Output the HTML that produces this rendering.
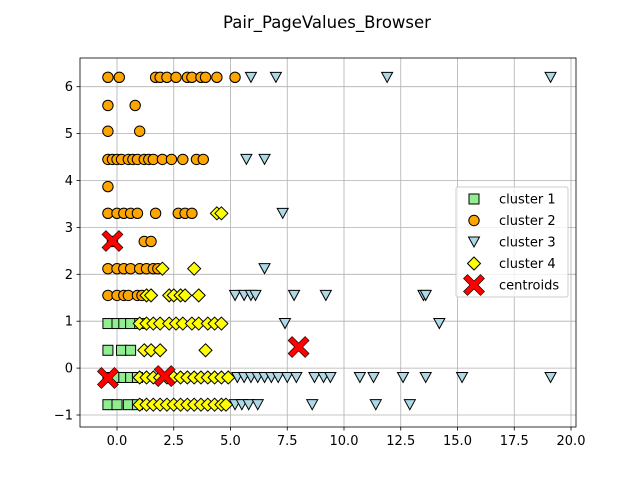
<!DOCTYPE html>
<html><head><meta charset="utf-8"><style>
body{margin:0;background:#fff;}
svg{display:block;font-family:"DejaVu Sans","Liberation Sans",sans-serif;}
</style></head><body>
<svg id="chart" width="640" height="480" viewBox="0 0 640 480">
<text x="327" y="28" font-size="16.5" text-anchor="middle">Pair_PageValues_Browser</text>
<g id="grid"></g><g id="marks"></g><g id="axes"></g><g id="legend"></g>
</svg>
<script>
const xTicks=[0,2.5,5,7.5,10,12.5,15,17.5,20];
const xTickLabels=["0.0","2.5","5.0","7.5","10.0","12.5","15.0","17.5","20.0"];
const yTicks=[-1,0,1,2,3,4,5,6];
const yTickLabels=["−1","0","1","2","3","4","5","6"];
const cluster1=[[-0.4,0.95],[0,0.95],[0.3,0.95],[0.6,0.95],[1.0,0.95],[-0.4,0.38],[0.2,0.38],[0.6,0.38],[-0.4,-0.2],[0,-0.2],[0.3,-0.2],[0.6,-0.2],[0.9,-0.2],[-0.4,-0.78],[0,-0.78],[0.5,-0.78],[0.9,-0.78]];
const cluster2=[[-0.4,6.2],[0.1,6.2],[1.7,6.2],[1.9,6.2],[2.2,6.2],[2.6,6.2],[3.1,6.2],[3.3,6.2],[3.7,6.2],[3.9,6.2],[4.4,6.2],[5.2,6.2],[-0.4,5.6],[0.8,5.6],[-0.4,5.05],[1.0,5.05],
[-0.4,4.45],[-0.2,4.45],[0,4.45],[0.2,4.45],[0.5,4.45],[0.7,4.45],[0.9,4.45],[1.2,4.45],[1.4,4.45],[1.6,4.45],[2.0,4.45],[2.4,4.45],[2.9,4.45],[3.5,4.45],[3.8,4.45],[-0.4,3.87],
[-0.4,3.3],[0,3.3],[0.3,3.3],[0.6,3.3],[0.9,3.3],[1.7,3.3],[2.7,3.3],[3.0,3.3],[3.3,3.3],[-0.2,2.7],[1.2,2.7],[1.5,2.7],
[-0.4,2.12],[0,2.12],[0.3,2.12],[0.6,2.12],[1.0,2.12],[1.3,2.12],[1.6,2.12],[1.8,2.12],[-0.4,1.55],[0,1.55],[0.3,1.55],[0.5,1.55],[0.9,1.55],[1.1,1.55]];
const cluster3=[[5.9,6.2],[7.0,6.2],[11.9,6.2],[19.1,6.2],[5.7,4.45],[6.5,4.45],[7.3,3.3],[6.5,2.12],
[5.2,1.55],[5.6,1.55],[5.9,1.55],[6.1,1.55],[7.8,1.55],[9.2,1.55],[13.5,1.55],[13.6,1.55],[7.4,0.95],[14.2,0.95],
[5.3,-0.2],[5.6,-0.2],[5.9,-0.2],[6.2,-0.2],[6.5,-0.2],[6.8,-0.2],[7.1,-0.2],[7.5,-0.2],[7.9,-0.2],[8.7,-0.2],[9.1,-0.2],[9.4,-0.2],[10.7,-0.2],[11.3,-0.2],[12.6,-0.2],[13.6,-0.2],[15.2,-0.2],[19.1,-0.2],
[5.2,-0.78],[5.5,-0.78],[5.8,-0.78],[6.2,-0.78],[8.6,-0.78],[11.4,-0.78],[12.9,-0.78]];
const cluster4=[[4.4,3.3],[4.6,3.3],[2.0,2.12],[3.4,2.12],[1.3,1.55],[1.5,1.55],[2.3,1.55],[2.5,1.55],[2.8,1.55],[3.0,1.55],[3.6,1.55],
[1.0,0.95],[1.3,0.95],[1.6,0.95],[1.9,0.95],[2.3,0.95],[2.6,0.95],[2.9,0.95],[3.3,0.95],[3.6,0.95],[4.0,0.95],[4.3,0.95],[4.6,0.95],
[1.2,0.38],[1.5,0.38],[1.9,0.38],[3.9,0.38],
[1.0,-0.2],[1.3,-0.2],[1.6,-0.2],[1.9,-0.2],[2.2,-0.2],[2.5,-0.2],[2.8,-0.2],[3.1,-0.2],[3.4,-0.2],[3.7,-0.2],[4.0,-0.2],[4.3,-0.2],[4.6,-0.2],[4.9,-0.2],
[1.0,-0.78],[1.3,-0.78],[1.6,-0.78],[1.9,-0.78],[2.2,-0.78],[2.5,-0.78],[2.8,-0.78],[3.1,-0.78],[3.4,-0.78],[3.7,-0.78],[4.0,-0.78],[4.3,-0.78],[4.6,-0.78],[4.8,-0.78]];
const centroids=[[-0.2,2.71],[-0.4,-0.21],[2.1,-0.17],[8.0,0.45]];
const legendLabels=["cluster 1","cluster 2","cluster 3","cluster 4","centroids"];

const L=80,R=576,T=58,B=427;
const sx=v=>117+v*22.7;
const sy=v=>415-(v+1)*46.9;
const NS="http://www.w3.org/2000/svg";
function mk(tag,attrs,parent){const e=document.createElementNS(NS,tag);for(const k in attrs)e.setAttribute(k,attrs[k]);parent.appendChild(e);return e;}
const grid=document.getElementById('grid'),marks=document.getElementById('marks'),axes=document.getElementById('axes'),legend=document.getElementById('legend');
xTicks.forEach((t,i)=>{const x=sx(t);
 const g=mk('line',{x1:x,x2:x,y1:T,y2:B,stroke:'#b0b0b0','stroke-width':0.8},grid);
 
 mk('line',{x1:x,x2:x,y1:B,y2:B+3.5,stroke:'#000','stroke-width':0.8},axes);
 const tx=mk('text',{x:x,y:B+18,'font-size':13,'text-anchor':'middle'},axes);tx.textContent=xTickLabels[i];
 });
yTicks.forEach((t,i)=>{const y=sy(t);
 const g=mk('line',{x1:L,x2:R,y1:y,y2:y,stroke:'#b0b0b0','stroke-width':0.8},grid);
 
 mk('line',{x1:L-3.5,x2:L,y1:y,y2:y,stroke:'#000','stroke-width':0.8},axes);
 const tx=mk('text',{x:L-7,y:y+4.5,'font-size':13,'text-anchor':'end'},axes);tx.textContent=yTickLabels[i];
 });
const frame=mk('rect',{x:L,y:T,width:R-L,height:B-T,fill:'none',stroke:'#000','stroke-width':0.8},axes);


function drawMarker(type,x,y,parent){
 let e;
 if(type==='sq') e=mk('rect',{x:x-5,y:y-5,width:10,height:10,fill:'lightgreen',stroke:'#000','stroke-width':1},parent);
 else if(type==='ci') e=mk('circle',{cx:x,cy:y,r:5.2,fill:'orange',stroke:'#000','stroke-width':1},parent);
 else if(type==='tr') e=mk('polygon',{points:`${x-5.5},${y-5} ${x+5.5},${y-5} ${x},${y+5}`,fill:'lightblue',stroke:'#000','stroke-width':1},parent);
 else if(type==='di') e=mk('polygon',{points:`${x},${y-6.5} ${x+6.5},${y} ${x},${y+6.5} ${x-6.5},${y}`,fill:'yellow',stroke:'#000','stroke-width':1},parent);
 else { const s=10.5,w=4;
  e=mk('polygon',{points:`${x-s},${y-s+w} ${x-s+w},${y-s} ${x},${y-w} ${x+s-w},${y-s} ${x+s},${y-s+w} ${x+w},${y} ${x+s},${y+s-w} ${x+s-w},${y+s} ${x},${y+w} ${x-s+w},${y+s} ${x-s},${y+s-w} ${x-w},${y}`,fill:'red',stroke:'#000','stroke-width':0.6},parent);}
 return e;}
const series=[['sq',cluster1,'cluster1-point'],['ci',cluster2,'cluster2-point'],['tr',cluster3,'cluster3-point'],['di',cluster4,'cluster4-point'],['x',centroids,'centroid-marker']];
series.forEach(([type,data,name])=>{data.forEach(p=>{const e=drawMarker(type,sx(p[0]),sy(p[1]),marks);
 
 });});
const lb=mk('rect',{x:456,y:187,width:112,height:110,fill:'#fff','fill-opacity':0.8,stroke:'#ccc','stroke-width':1,rx:2},legend);

series.forEach(([type],i)=>{const y=199+i*21.5;
 const m=drawMarker(type,474,y,legend);
 
 const t=mk('text',{x:499,y:y+4.5,'font-size':13},legend);t.textContent=legendLabels[i];
 });
</script>
</body></html>
